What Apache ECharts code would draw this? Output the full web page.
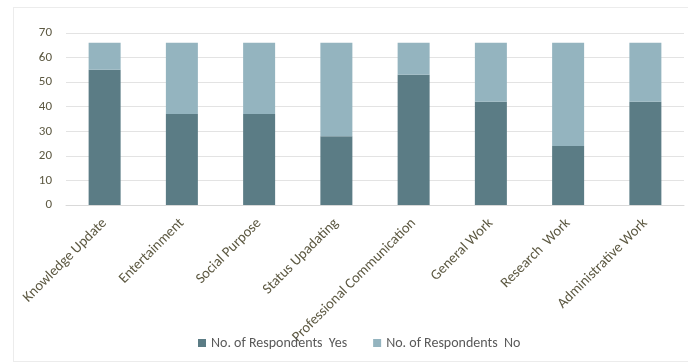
<!DOCTYPE html>
<html>
<head>
<meta charset="utf-8">
<script src="https://cdn.jsdelivr.net/npm/echarts@6/dist/echarts.min.js"></script>
<style>
  html, body { margin: 0; padding: 0; background: #fff; }
  #frame { position: absolute; left: 13px; top: 7px; width: 690px; height: 353px; border: 1px solid #ececec; }
  #chart { position: absolute; left: 0; top: 0; width: 688px; height: 363px; }
</style>
</head>
<body>
<div id="frame"></div>
<div id="chart"></div>
<script>
// values
const categories = ['Knowledge Update', 'Entertainment', 'Social Purpose', 'Status Upadating',
  'Professional Communication', 'General Work', 'Research  Work', 'Administrative Work']
const yesValues = [55, 37, 37, 28, 53, 42, 24, 42]
const noValues  = [11, 29, 29, 38, 13, 24, 42, 24]
const seriesNames = ['No. of Respondents  Yes', 'No. of Respondents  No']

const font = 'Carlito, Lato, sans-serif'
const chart = echarts.init(document.getElementById('chart'), null, { renderer: 'canvas' })

chart.setOption({
  backgroundColor: 'transparent',
  animation: false,
  grid: { top: 33, left: 66, right: 4, bottom: 158 },
  legend: {
    top: 331, left: 193,
    itemWidth: 8, itemHeight: 8, itemGap: 26,
    icon: 'rect',
    textStyle: { color: '#595959', fontSize: 14, fontFamily: font },
    data: seriesNames,
  },
  xAxis: {
    type: 'category', data: categories,
    axisLine: { lineStyle: { color: '#d9d9d9' } },
    axisTick: { show: false },
    axisLabel: { color: '#5c5841', fontSize: 14.5, fontFamily: font, rotate: 45, interval: 0, margin: 16 },
  },
  yAxis: {
    type: 'value', min: 0, max: 70, interval: 10,
    axisLine: { show: false }, axisTick: { show: false },
    axisLabel: { color: '#5c5841', fontSize: 13, fontFamily: font, margin: 14 },
    splitLine: { lineStyle: { color: '#e3e3e3' } },
  },
  series: [
    {
      name: seriesNames[0], type: 'bar', stack: 'total', barWidth: 32,
      itemStyle: { color: '#5b7c85' },
      data: yesValues,
    },
    {
      name: seriesNames[1], type: 'bar', stack: 'total', barWidth: 32,
      itemStyle: { color: '#94b4bf' },
      data: noValues,
    },
  ],
})
</script>
</body>
</html>
